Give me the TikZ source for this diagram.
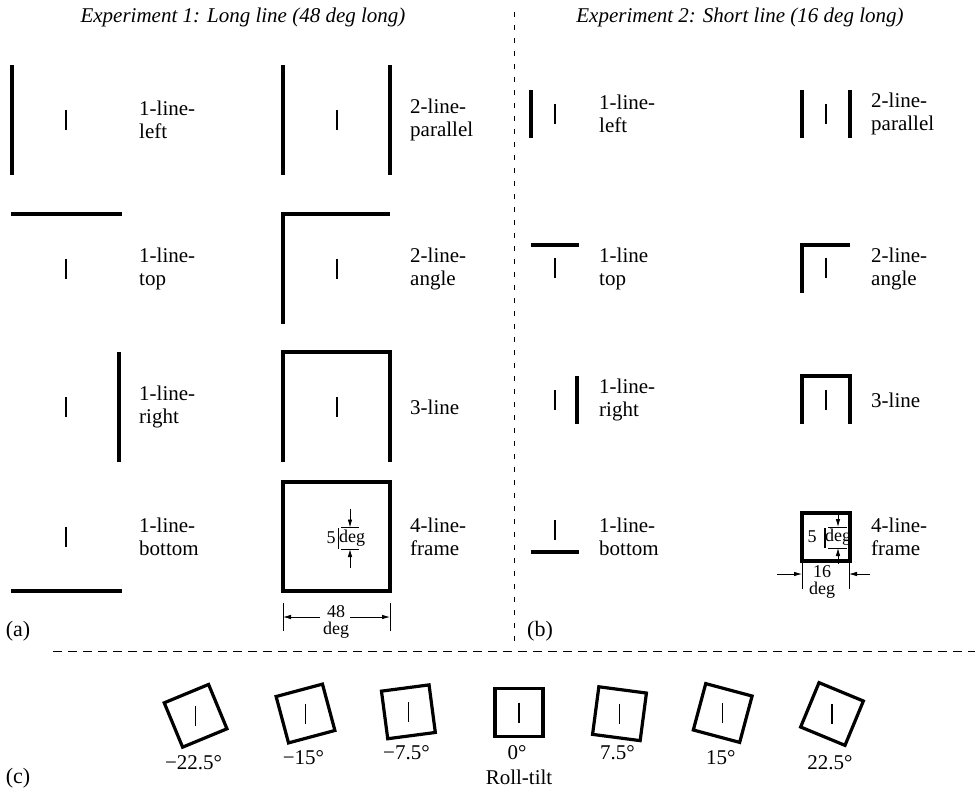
\documentclass[tikz,border=0pt]{standalone}
\usepackage{fontspec}
\setmainfont{Liberation Serif}
\usetikzlibrary{arrows.meta}
\newcommand\fixat[2]{\draw[fixl] (#1,#2-10) -- (#1,#2+10);}
\begin{document}
\begin{tikzpicture}[x=1pt,y=-1pt,
  stim/.style={line width=3.2pt, line join=miter},
  fixl/.style={line width=1.1pt},
  dimln/.style={line width=0.8pt},
  dimarr/.style={line width=0.8pt, -{Latex[length=8pt,width=4.5pt]}},
  lab/.style={anchor=west, align=left, inner sep=0pt, font=\fontsize{21}{23}\selectfont},
  ttl/.style={inner sep=0pt, font=\fontsize{21}{23}\selectfont\itshape},
  dimtxt/.style={inner sep=0pt, font=\fontsize{18}{17}\selectfont},
  dimtwo/.style={inner sep=0pt, align=center, font=\fontsize{18}{16.5}\selectfont},
  deglab/.style={inner sep=0pt, font=\fontsize{21}{23}\selectfont},
  panel/.style={inner sep=0pt, font=\fontsize{22}{24}\selectfont},
  divider/.style={line width=0.8pt, dash pattern=on 5pt off 8pt}]
\useasboundingbox (0,0) rectangle (975,793);

% titles
\node[ttl] (t1) at (243,17) {Experiment 1: Long line (48 deg long)};
\node[ttl] (t2) at (740,17) {Experiment 2: Short line (16 deg long)};

% dividers
\coordinate (vdTop) at (514,12); \coordinate (vdBot) at (514,648);
\draw[divider] (vdTop) -- (vdBot);
\coordinate (hdL) at (53,651); \coordinate (hdR) at (975,651);
\draw[line width=0.8pt, dash pattern=on 9pt off 6pt] (hdL) -- (hdR);

% ---------- Experiment 1 ----------
% row 1
\draw[stim] (12,65) -- (12,175);
\fixat{66}{120}
\node[lab] (e1a) at (139,120) {1-line-\\left};
\draw[stim] (283,65) -- (283,175);
\draw[stim] (390,65) -- (390,175);
\fixat{337}{120}
\node[lab] (e1b) at (410,120) {2-line-\\parallel};
% row 2
\draw[stim] (11,214) -- (122,214);
\fixat{66}{269}
\node[lab] (e1c) at (139,269) {1-line-\\top};
\draw[stim] (283,324) -- (283,214) -- (390,214);
\fixat{337}{269}
\node[lab] (e1d) at (410,269) {2-line-\\angle};
% row 3
\draw[stim] (119,352) -- (119,462);
\fixat{66}{407}
\node[lab] (e1e) at (139,407) {1-line-\\right};
\draw[stim] (283,462) -- (283,352) -- (390,352) -- (390,462);
\fixat{337}{407}
\node[lab] (e1f) at (410,407) {3-line};
% row 4
\draw[stim] (11,591) -- (122,591);
\fixat{66}{537}
\node[lab] (e1g) at (139,537) {1-line-\\bottom};
\draw[stim] (283,482) rectangle (390,591);
\draw[fixl] (338.5,528) -- (338.5,549);
\node[dimtxt] (e1five) at (331,538) {5};
\node[dimtxt] (e1deg) at (352,538) {deg};
\coordinate (e1t1a) at (341,527.5); \coordinate (e1t1b) at (359,527.5);
\coordinate (e1t2a) at (341,549); \coordinate (e1t2b) at (359,549);
\draw[dimln] (e1t1a) -- (e1t1b);
\draw[dimln] (e1t2a) -- (e1t2b);
\coordinate (e1a1) at (350,509); \coordinate (e1a1e) at (350,527.5);
\coordinate (e1a2) at (350,568); \coordinate (e1a2e) at (350,549);
\draw[dimarr] (e1a1) -- (e1a1e);
\draw[dimarr] (e1a2) -- (e1a2e);
\node[lab] (e1h) at (410,537) {4-line-\\frame};
% bottom dimension
\coordinate (e1bl1) at (283,603); \coordinate (e1bl2) at (283,631);
\coordinate (e1br1) at (390,603); \coordinate (e1br2) at (390,631);
\draw[dimln] (e1bl1) -- (e1bl2);
\draw[dimln] (e1br1) -- (e1br2);
\node[dimtwo] (e1w) at (336,622) {48\\deg};
\coordinate (e1l) at (283,617); \coordinate (e1r) at (390,617);
\coordinate (e1ls) at (320,617); \coordinate (e1rs) at (350,617);
\draw[dimarr] (e1ls) -- (e1l);
\draw[dimarr] (e1rs) -- (e1r);

% ---------- Experiment 2 ----------
% row 1
\draw[stim] (531,90) -- (531,138);
\fixat{555}{114}
\node[lab] (e2a) at (599,114) {1-line-\\left};
\draw[stim] (802,90) -- (802,138);
\draw[stim] (850,90) -- (850,138);
\fixat{826}{114}
\node[lab] (e2b) at (871,114) {2-line-\\parallel};
% row 2
\draw[stim] (531,245) -- (579,245);
\fixat{555}{268}
\node[lab] (e2c) at (599,269) {1-line\\top};
\draw[stim] (802,293) -- (802,245) -- (850,245);
\fixat{826}{268}
\node[lab] (e2d) at (871,269) {2-line-\\angle};
% row 3
\draw[stim] (577,376) -- (577,424);
\fixat{555}{400}
\node[lab] (e2e) at (599,400) {1-line-\\right};
\draw[stim] (802,424) -- (802,376) -- (850,376) -- (850,424);
\fixat{826}{400}
\node[lab] (e2f) at (871,400) {3-line};
% row 4
\draw[stim] (531,552) -- (579,552);
\fixat{555}{530}
\node[lab] (e2g) at (599,537) {1-line-\\bottom};
\draw[stim] (802,513) rectangle (850,561);
\draw[fixl] (825,528) -- (825,548);
\node[dimtxt] (e2five) at (812,537) {5};
\node[dimtxt] (e2deg) at (838,537) {deg};
\coordinate (e2t1a) at (828,527); \coordinate (e2t1b) at (847,527);
\coordinate (e2t2a) at (828,548); \coordinate (e2t2b) at (847,548);
\draw[dimln] (e2t1a) -- (e2t1b);
\draw[dimln] (e2t2a) -- (e2t2b);
\coordinate (e2a1) at (838,512); \coordinate (e2a1e) at (838,527);
\coordinate (e2a2) at (838,564); \coordinate (e2a2e) at (838,548);
\draw[dimarr] (e2a1) -- (e2a1e);
\draw[dimarr] (e2a2) -- (e2a2e);
\node[lab] (e2h) at (871,537) {4-line-\\frame};
% bottom dimension
\coordinate (e2bl1) at (802,562); \coordinate (e2bl2) at (802,589);
\coordinate (e2br1) at (849,562); \coordinate (e2br2) at (849,589);
\draw[dimln] (e2bl1) -- (e2bl2);
\draw[dimln] (e2br1) -- (e2br2);
\node[dimtwo] (e2w) at (822,582) {16\\deg};
\coordinate (e2ls) at (777,574); \coordinate (e2le) at (802,574);
\coordinate (e2rs) at (870,574); \coordinate (e2re) at (849,574);
\draw[dimarr] (e2ls) -- (e2le);
\draw[dimarr] (e2rs) -- (e2re);

% panel labels
\node[panel] (pa) at (18,631) {(a)};
\node[panel] (pb) at (540,631) {(b)};
\node[panel] (pc) at (18,778) {(c)};

% ---------- (c) roll-tilt ----------
\foreach \cx/\cy/\ang/\ly/\txt/\nm in {
  195.6/715.8/22.5/763/{−22.5°}/c1,
  305.5/713.5/15/758/{−15°}/c2,
  408.4/711.8/7.5/753/{−7.5°}/c3,
  519/712.7/0/753/{0°}/c4,
  619.5/713.7/-7.5/753/{7.5°}/c5,
  722.7/713/-15/758/{15°}/c6,
  832/714/-22.5/763/{22.5°}/c7}{
  \begin{scope}[shift={(\cx,\cy)}]
    \draw[stim, rotate=\ang] (-24,-24) rectangle (24,24);
    \draw[fixl] (0,-10) -- (0,10);
  \end{scope}
  \node[deglab] (\nm) at (\cx-2,\ly) {\txt};
}
\node[deglab] (rt) at (519,777) {Roll-tilt};
\end{tikzpicture}
\end{document}
